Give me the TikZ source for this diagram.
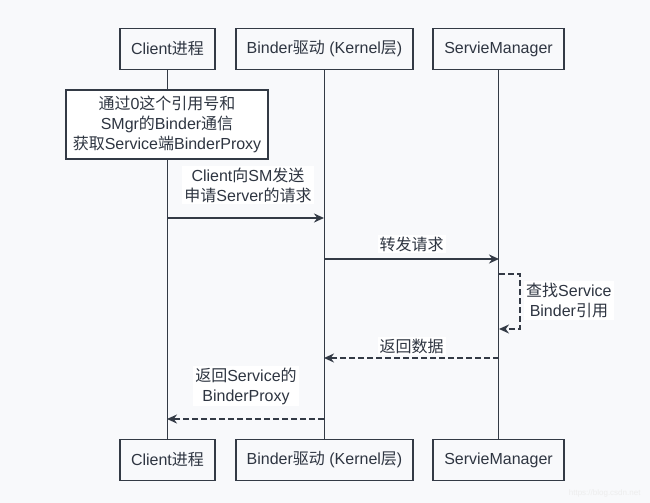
\documentclass[tikz,border=0pt]{standalone}
\usepackage{fontspec}
\setmainfont{Liberation Sans}
\newfontfamily\cjkfont{Noto Sans CJK SC}
\newcommand{\zh}[1]{{\cjkfont #1}}
\usetikzlibrary{arrows.meta}
\definecolor{bg}{HTML}{F8F9FB}
\definecolor{ink}{HTML}{333A45}
\definecolor{txt}{HTML}{2E3541}
\begin{document}
\begin{tikzpicture}[x=1bp,y=-1bp,
  font=\fontsize{16bp}{20bp}\selectfont, text=txt,
  box/.style={draw=ink, line width=1.8bp, fill=bg, minimum height=41bp, inner sep=0pt},
  notebox/.style={draw=ink, line width=1.8bp, fill=white, inner sep=0pt, align=center, minimum width=202bp, minimum height=69bp},
  lbl/.style={fill=white, inner sep=2bp, align=center},
  life/.style={draw=ink, line width=1.5bp},
  msg/.style={draw=ink, line width=1.7bp, -{Stealth[length=10bp,width=9bp]}},
  ret/.style={msg, dash pattern=on 6bp off 3bp}]
\fill[bg] (0,0) rectangle (650,503);
\useasboundingbox (0,0) rectangle (650,503);
% top participants
\node[box, minimum width=95bp]  (ct) at (167.5,49) {Client\zh{进程}};
\node[box, minimum width=177bp] (bt) at (324.5,49) {Binder\zh{驱动} (Kernel\zh{层})};
\node[box, minimum width=131bp] (st) at (498.5,49) {ServieManager};
% bottom participants
\node[box, minimum width=95bp]  (cb) at (167.5,460) {Client\zh{进程}};
\node[box, minimum width=177bp] (bb) at (324.5,460) {Binder\zh{驱动} (Kernel\zh{层})};
\node[box, minimum width=131bp] (sb) at (498.5,460) {ServieManager};
% lifelines
\draw[life] (ct.south) -- (cb.north);
\draw[life] (bt.south) -- (bb.north);
\draw[life] (st.south) -- (sb.north);
% note
\node[notebox] (note) at (167,124.5) {\zh{通过}0\zh{这个引用号和}\\SMgr\zh{的}Binder\zh{通信}\\\zh{获取}Service\zh{端}BinderProxy};
% message 1
\coordinate (c1) at (167,218);
\coordinate (b1) at (324,218);
\draw[msg] (c1) -- (b1);
\node[lbl] (l1) at (248,185) {Client\zh{向}SM\zh{发送}\\\zh{申请}Server\zh{的请求}};
% message 2
\coordinate (b2) at (324,259);
\coordinate (s2) at (499,259);
\draw[msg] (b2) -- (s2);
\node[lbl] (l2) at (411.5,244) {\zh{转发请求}};
% self loop
\coordinate (s3) at (499,274);
\coordinate (s4) at (499,329);
\draw[ret] (s3) -- ++(21,0) |- (s4);
\node[lbl, anchor=west] (l3) at (524,300.5) {\zh{查找}Service\\Binder\zh{引用}};
% return 1
\coordinate (s5) at (499,358);
\coordinate (b5) at (324,358);
\draw[ret] (s5) -- (b5);
\node[lbl] (l4) at (411.5,346) {\zh{返回数据}};
% return 2
\coordinate (b6) at (324,419);
\coordinate (c6) at (167,419);
\draw[ret] (b6) -- (c6);
\node[lbl] (l5) at (246,386) {\zh{返回}Service\zh{的}\\BinderProxy};
% watermark
\node[text=black!7, anchor=east, font=\fontsize{8bp}{8bp}\selectfont] (wm) at (644,493) {https://blog.csdn.net};
\end{tikzpicture}
\end{document}
